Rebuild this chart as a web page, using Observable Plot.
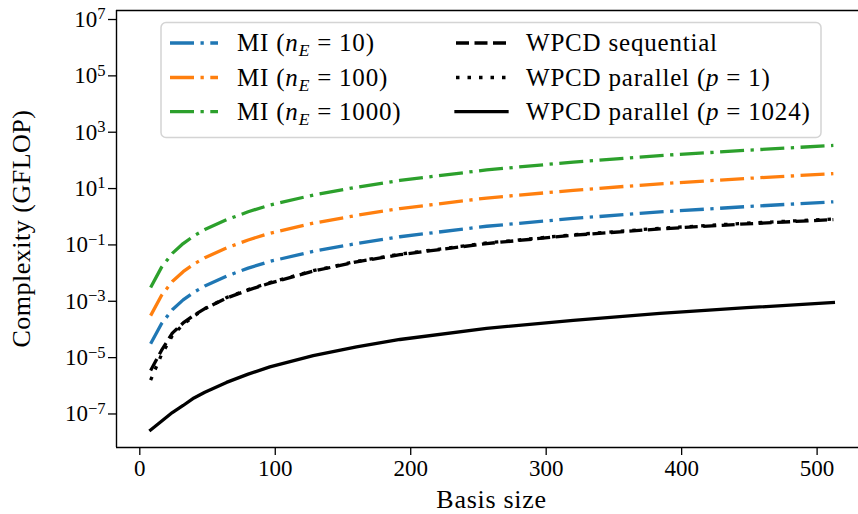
<!DOCTYPE html>
<html>
<head>
<meta charset="utf-8">
<script src="https://cdn.jsdelivr.net/npm/d3@7"></script>
<script src="https://cdn.jsdelivr.net/npm/@observablehq/plot@0.6"></script>
<style>
  html, body { margin: 0; padding: 0; background: #fff; }
  #chart svg { display: block; }
</style>
</head>
<body>
<div id="chart"></div>
<script>
// ---- data ----
const basisSize = [8, 16, 24, 32, 40, 48, 64, 80, 96, 128, 160, 192, 256, 320, 384, 448, 512];
const miE10   = [3.1e-5, 1.6e-4, 5.0e-4, 1.12e-3, 2.1e-3, 3.5e-3, 7.8e-3, 1.5e-2, 2.6e-2, 5.9e-2, 0.112, 0.195, 0.46, 0.87, 1.48, 2.29, 3.39];
const miE100  = [3.1e-4, 1.6e-3, 5.0e-3, 1.12e-2, 2.1e-2, 3.5e-2, 7.8e-2, 0.15, 0.26, 0.59, 1.12, 1.95, 4.6, 8.7, 14.8, 22.9, 33.9];
const miE1000 = [3.1e-3, 1.6e-2, 5.0e-2, 0.112, 0.21, 0.35, 0.78, 1.5, 2.6, 5.9, 11.2, 19.5, 46, 87, 148, 229, 339];
const wpcdSeq = [3.5e-6, 1.8e-5, 7.4e-5, 1.7e-4, 3.2e-4, 5.5e-4, 1.3e-3, 2.5e-3, 4.4e-3, 1.17e-2, 2.5e-2, 4.5e-2, 0.112, 0.22, 0.37, 0.56, 0.79];
const wpcdP1  = [1.6e-6, 1.26e-5, 6.0e-5, 1.5e-4, 3.0e-4, 5.4e-4, 1.35e-3, 2.6e-3, 4.6e-3, 1.22e-2, 2.6e-2, 4.7e-2, 0.117, 0.23, 0.39, 0.59, 0.83];
const wpcdP1024 = [2.7e-8, 5.5e-8, 1.12e-7, 2.0e-7, 3.7e-7, 5.9e-7, 1.32e-6, 2.6e-6, 4.7e-6, 1.17e-5, 2.4e-5, 4.4e-5, 1.1e-4, 2.1e-4, 3.7e-4, 5.9e-4, 9.1e-4];

const xTicks = [0, 100, 200, 300, 400, 500];
const yTicks = [1e-7, 1e-5, 1e-3, 1e-1, 1e1, 1e3, 1e5, 1e7];
const xLabel = "Basis size";
const yLabel = "Complexity (GFLOP)";

// label pieces: [prefix, italic symbol, italic subscript, value-part]
const series = [
  {key: "mi10",   values: miE10,    color: "#1f77b4", dash: "24,6.5,3.3,6.5", cap: "butt",   label: ["MI (", "n", "E", "10)"]},
  {key: "mi100",  values: miE100,   color: "#ff7f0e", dash: "24,6.5,3.3,6.5", cap: "butt",   label: ["MI (", "n", "E", "100)"]},
  {key: "mi1000", values: miE1000,  color: "#2ca02c", dash: "24,6.5,3.3,6.5", cap: "butt",   label: ["MI (", "n", "E", "1000)"]},
  {key: "seq",    values: wpcdSeq,  color: "#000000", dash: "13,5.5",         cap: "butt",   label: ["WPCD sequential"]},
  {key: "p1",     values: wpcdP1,   color: "#000000", dash: "3.5,8",          cap: "butt",   label: ["WPCD parallel (", "p", null, "1)"]},
  {key: "p1024",  values: wpcdP1024,color: "#000000", dash: null,             cap: "square", label: ["WPCD parallel (", "p", null, "1024)"]}
];

const xDomain = [-17.2, 537.2];
const yDomain = [Math.pow(10, -8.19), Math.pow(10, 7.32)];
const FONT = "'Liberation Serif', 'DejaVu Serif', serif";
const LW = 3.3;

const lineMarks = series.map(s => Plot.line(
  basisSize.map((x, i) => ({x, y: s.values[i]})),
  {x: "x", y: "y", stroke: s.color, strokeWidth: LW,
   strokeDasharray: s.dash || undefined, strokeLinecap: s.cap, strokeLinejoin: "round"}
));

const chart = Plot.plot({
  width: 858, height: 514,
  marginLeft: 116, marginRight: 0, marginTop: 10, marginBottom: 67,
  style: {fontFamily: FONT, fontSize: "23px", color: "black", background: "white", overflow: "hidden"},
  x: {domain: xDomain, range: [116, 867]},
  y: {type: "log", domain: yDomain},
  marks: [
    Plot.axisX({ticks: xTicks, tickSize: 8, tickPadding: 4, tickFormat: d => String(d), label: null, strokeWidth: 1.3, fontSize: 23}),
    Plot.axisY({ticks: yTicks, tickSize: 8, tickPadding: 3, tickFormat: d => String(Math.round(Math.log10(d))), label: null, strokeWidth: 1.3, fontSize: 23}),
    ...lineMarks,
    Plot.ruleX([xDomain[0]], {stroke: "black", strokeWidth: 1.4}),
    Plot.ruleY([yDomain[0]], {stroke: "black", strokeWidth: 1.4}),
    Plot.ruleY([yDomain[1]], {stroke: "black", strokeWidth: 1.4})
  ]
});
document.getElementById("chart").appendChild(chart);

const svg = d3.select(chart);

// y tick labels as 10^k with raised exponents
svg.selectAll("g[aria-label='y-axis tick label'] text").each(function() {
  const t = d3.select(this);
  const k = +t.text();
  t.text(null);
  t.append("tspan").text("10");
  t.append("tspan").attr("dy", "-0.45em").attr("font-size", "0.72em")
    .text(k < 0 ? "\u2212" + Math.abs(k) : String(k));
});

// axis titles
svg.append("text").attr("x", 491.5).attr("y", 508).attr("text-anchor", "middle")
  .attr("font-family", FONT).attr("font-size", 26).attr("letter-spacing", "0.7px").text(xLabel);
svg.append("text").attr("transform", "translate(30,228.5) rotate(-90)").attr("text-anchor", "middle")
  .attr("font-family", FONT).attr("font-size", 26).attr("letter-spacing", "0.5px").text(yLabel);

// legend
const lg = svg.append("g");
lg.append("rect").attr("x", 161).attr("y", 22.5).attr("width", 660).attr("height", 115)
  .attr("rx", 5).attr("fill", "white").attr("fill-opacity", 0.85)
  .attr("stroke", "#d4d4d4").attr("stroke-width", 1.5);
const rowsY = [43, 77.5, 111.7];
series.forEach((s, i) => {
  const col = i < 3 ? 0 : 1;
  const row = i % 3;
  const x0 = col === 0 ? 170 : 456;
  const x1 = col === 0 ? 218 : 507;
  const tx = col === 0 ? 237 : 526;
  const y = rowsY[row];
  const ln = lg.append("line").attr("x1", x0).attr("x2", x1).attr("y1", y).attr("y2", y)
    .attr("stroke", s.color).attr("stroke-width", LW).attr("stroke-linecap", s.cap);
  if (s.dash) ln.attr("stroke-dasharray", s.dash);
  const t = lg.append("text").attr("x", tx).attr("y", y + 8).attr("text-anchor", "start")
    .attr("font-family", FONT).attr("font-size", 25).attr("letter-spacing", "0.8px").attr("fill", "black");
  const [a, it, sub, b] = s.label;
  t.append("tspan").text(a);
  if (it) {
    t.append("tspan").attr("font-style", "italic").text(it);
    if (sub) {
      t.append("tspan").attr("font-style", "italic").attr("font-size", "0.7em").attr("dy", 5).text(sub);
      t.append("tspan").attr("dy", -5).attr("dx", 7).text("=");
    } else {
      t.append("tspan").attr("dx", 7).text("=");
    }
    t.append("tspan").attr("dx", 7).text(b);
  }
});
</script>
</body>
</html>
